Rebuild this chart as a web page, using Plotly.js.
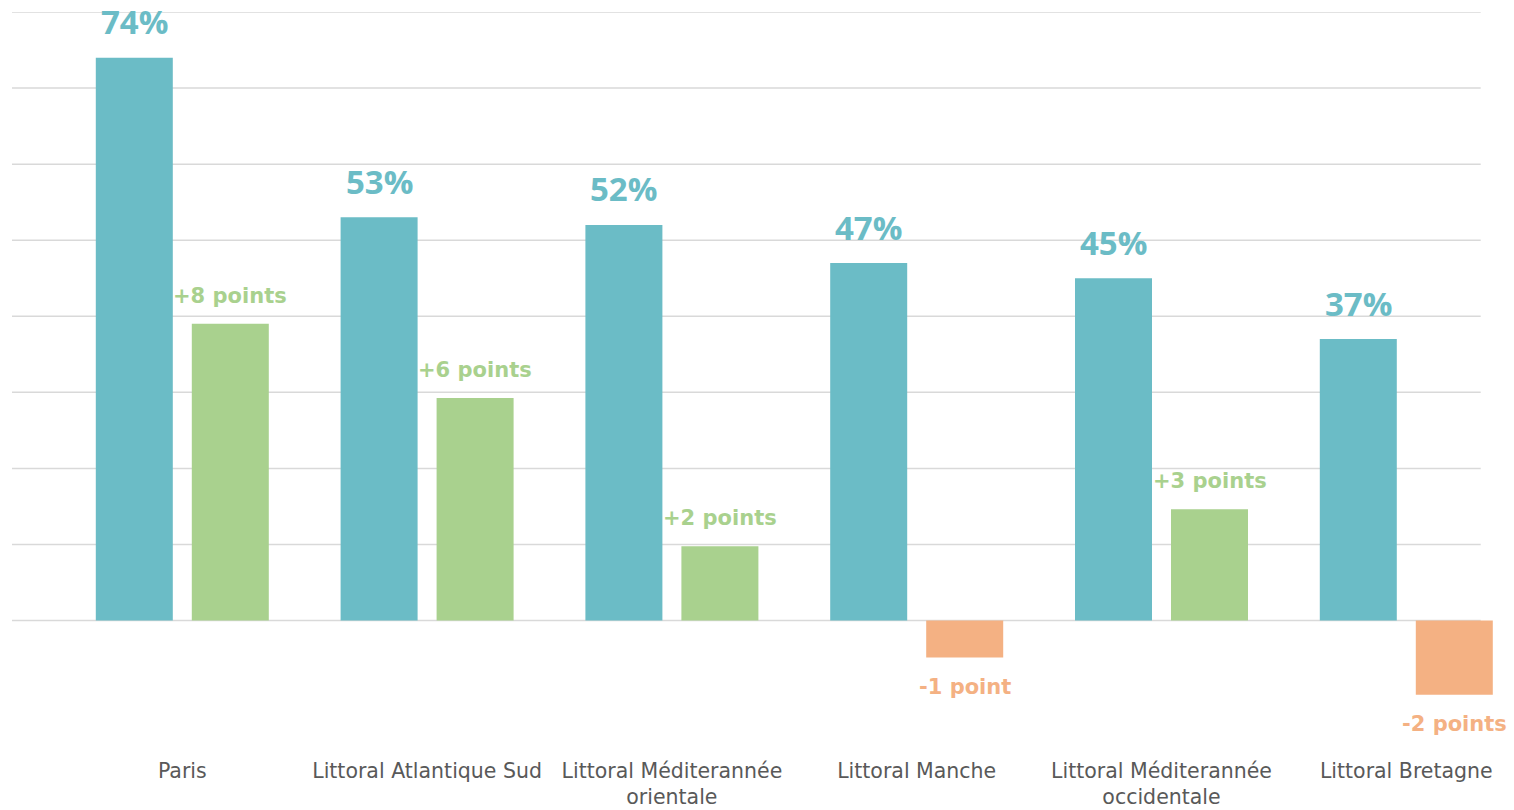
<!DOCTYPE html>
<html>
<head>
<meta charset="utf-8">
<script src="https://cdn.plot.ly/plotly-3.0.1.min.js"></script>
<style>html,body{margin:0;padding:0;background:#fff;}#chart{width:1514px;height:810px;}</style>
</head>
<body>
<div id="chart"></div>
<script>
// ---- data ----
const categories = ["Paris", "Littoral Atlantique Sud", "Littoral Méditerannée orientale", "Littoral Manche", "Littoral Méditerannée occidentale", "Littoral Bretagne"];
const tickLabels = ["Paris", "Littoral Atlantique Sud", "Littoral Méditerannée<br>orientale", "Littoral Manche", "Littoral Méditerannée<br>occidentale", "Littoral Bretagne"];
const shares = [74, 53, 52, 47, 45, 37];          // %
const changes = [8, 6, 2, -1, 3, -2];             // points
const gridVals = [0, 10, 20, 30, 40, 50, 60, 70, 80];

// ---- styles / geometry ----
const TEAL = "#6BBCC6", GREEN = "#A9D18E", ORANGE = "#F4B183";
const W = 1514, H = 810;
const M = {l: 12, r: 14, t: 12, b: 54};
const plotTop = M.t, plotBottom = H - M.b, plotLeft = M.l, plotRight = W - M.r;
const zeroY = 620.5, pctPx = 7.60625, ptPx = 37.1;
const catPx = 244.8, cat0 = 182.3, gridRight = 1480.7;
const barW = 77 / catPx, offTeal = -86.5 / catPx, offChg = 9.5 / catPx;

const xr0 = -(cat0 - plotLeft) / catPx;
const xr1 = xr0 + (plotRight - plotLeft) / catPx;
const y1Range = [-(plotBottom - zeroY) / pctPx, (zeroY - plotTop) / pctPx];
const y2Range = [-(plotBottom - zeroY) / ptPx, (zeroY - plotTop) / ptPx];

const idx = categories.map((c, i) => i);

const traceShare = {
  type: "bar", x: idx, y: shares, yaxis: "y",
  width: barW, offset: offTeal,
  marker: {color: TEAL}, hoverinfo: "skip"
};
const traceChange = {
  type: "bar", x: idx, y: changes, yaxis: "y2",
  width: barW, offset: offChg,
  marker: {color: changes.map(v => v >= 0 ? GREEN : ORANGE)}, hoverinfo: "skip"
};

const annotations = [];
shares.forEach((v, i) => {
  annotations.push({
    x: i + offTeal + barW / 2, y: v, xref: "x", yref: "y",
    text: v + "%", showarrow: false, yanchor: "middle", xanchor: "center",
    yshift: 36,
    font: {family: "Open Sans", size: 33, color: TEAL, weight: 700}
  });
});
changes.forEach((v, i) => {
  const label = (v > 0 ? "+" : "") + v + " point" + (Math.abs(v) > 1 ? "s" : "");
  annotations.push({
    x: i + offChg + barW / 2, y: v, xref: "x", yref: "y2",
    text: label, showarrow: false, yanchor: "middle", xanchor: "center",
    yshift: v >= 0 ? 28 : -29,
    font: {family: "DejaVu Sans", size: 21, color: v >= 0 ? GREEN : ORANGE, weight: 700}
  });
});

const shapes = gridVals.map(v => ({
  type: "line", xref: "paper", yref: "y",
  x0: 0, x1: (gridRight - plotLeft) / (plotRight - plotLeft), y0: v, y1: v,
  line: {color: "#D9D9D9", width: 1.5}, layer: "below"
}));

const layout = {
  width: W, height: H,
  margin: M,
  paper_bgcolor: "#fff", plot_bgcolor: "rgba(0,0,0,0)",
  showlegend: false,
  barmode: "overlay",
  xaxis: {
    range: [xr0, xr1], tickmode: "array", tickvals: idx, ticktext: tickLabels,
    showgrid: false, zeroline: false, showline: false, ticks: "",
    tickfont: {family: "DejaVu Sans", size: 20.5, color: "#595959"}
  },
  yaxis: {range: y1Range, showgrid: false, zeroline: false, showticklabels: false, ticks: ""},
  yaxis2: {range: y2Range, overlaying: "y", visible: false, showgrid: false, zeroline: false},
  shapes: shapes,
  annotations: annotations
};

Plotly.newPlot("chart", [traceShare, traceChange], layout, {staticPlot: true, displayModeBar: false});
</script>
</body>
</html>
